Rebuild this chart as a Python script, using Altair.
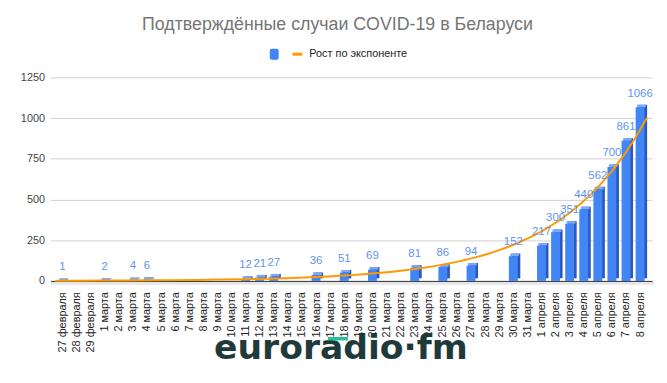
import altair as alt
import pandas as pd

# Category labels (x axis)
dates = [
    "27 февраля", "28 февраля", "29 февраля",
    "1 марта", "2 марта", "3 марта", "4 марта", "5 марта", "6 марта", "7 марта",
    "8 марта", "9 марта", "10 марта", "11 марта", "12 марта", "13 марта", "14 марта",
    "15 марта", "16 марта", "17 марта", "18 марта", "19 марта", "20 марта", "21 марта",
    "22 марта", "23 марта", "24 марта", "25 марта", "26 марта", "27 марта", "28 марта",
    "29 марта", "30 марта", "31 марта",
    "1 апреля", "2 апреля", "3 апреля", "4 апреля", "5 апреля", "6 апреля", "7 апреля",
    "8 апреля",
]

# Dates that have a reported value, and the values
case_dates = [
    "27 февраля", "1 марта", "3 марта", "4 марта", "11 марта", "12 марта", "13 марта",
    "16 марта", "18 марта", "20 марта", "23 марта", "25 марта", "27 марта", "30 марта",
    "1 апреля", "2 апреля", "3 апреля", "4 апреля", "5 апреля", "6 апреля", "7 апреля",
    "8 апреля",
]
cases = [1, 2, 4, 6, 12, 21, 27, 36, 51, 69, 81, 86, 94, 152,
         217, 300, 351, 440, 562, 700, 861, 1066]

y_ticks = [0, 250, 500, 750, 1000, 1250]

title_text = "Подтверждённые случаи COVID-19 в Беларуси"
legend_text = "Рост по экспоненте"
logo_text = "euroradio·fm"

df = pd.DataFrame({
    "date": case_dates,
    "idx": [dates.index(d) for d in case_dates],
    "value": cases,
})

W, H = 609, 206
FONT = "Liberation Sans"

label_expr = "[" + ",".join("'" + d + "'" for d in dates) + "][datum.value]"

X = alt.X(
    "idx:Q",
    scale=alt.Scale(domain=[-0.5, len(dates) - 0.5], nice=False, zero=False),
    axis=alt.Axis(
        values=list(range(len(dates))), labelExpr=label_expr, labelAngle=270,
        labelFontSize=11, labelColor="#222222", labelFont=FONT, labelPadding=11,
        labelOverlap=False, labelFlush=False, ticks=False, grid=False,
        domainColor="#333333", domainWidth=1, title=None,
    ),
)
Y = alt.Y(
    "value:Q",
    scale=alt.Scale(domain=[0, 1250], nice=False),
    axis=alt.Axis(
        values=y_ticks, format="d", labelFontSize=11, labelColor="#444444",
        labelFont=FONT, labelPadding=6, ticks=False, domain=False,
        gridColor="#d0d0d0", title=None,
    ),
)

base = alt.Chart(df)

floor = alt.Chart(pd.DataFrame({"a": [0]})).mark_rule(
    color="#e6e6e6", strokeWidth=3
).encode(x=alt.value(0), x2=alt.value(W + 2), y=alt.value(H + 2.5))

side = base.mark_bar(color="#2a56c0", size=9, xOffset=2.6, yOffset=-2.6,
                     y2Offset=-2.6).encode(x=X, y=Y)
top = base.mark_bar(color="#7ea9f7", size=9, xOffset=1.3, yOffset=-2.6,
                    y2Offset=0).encode(x=X, y=Y, y2="value:Q")
main = base.mark_bar(color="#4285f4", size=9).encode(x=X, y=Y)

trend = base.transform_regression(
    "idx", "value", method="exp", extent=[-0.5, len(dates) - 0.5]
).mark_line(color="#ff9900", strokeWidth=2).encode(x=X, y=Y)

labels = base.mark_text(dy=-14, color="#5f93f0", fontSize=11.5, font=FONT,
                        baseline="middle").encode(x=X, y=Y, text="value:Q")

one = pd.DataFrame({"a": [0]})
title = alt.Chart(one).mark_text(
    fontSize=18, color="#757575", font=FONT, align="center", baseline="middle"
).encode(x=alt.value(290.5), y=alt.value(-52.5), text=alt.value(title_text))

leg_sq = alt.Chart(one).mark_rect(color="#4285f4", cornerRadius=2).encode(
    x=alt.value(222), x2=alt.value(231), y=alt.value(-29), y2=alt.value(-18))
leg_line = alt.Chart(one).mark_rule(color="#ff9900", strokeWidth=3).encode(
    x=alt.value(245), x2=alt.value(255), y=alt.value(-23.5))
leg_text = alt.Chart(one).mark_text(
    fontSize=11, color="#222222", font=FONT, align="left", baseline="middle"
).encode(x=alt.value(262), y=alt.value(-23.5), text=alt.value(legend_text))

logo = alt.Chart(one).mark_text(
    fontSize=35, color="#1f3a3a", font="DejaVu Sans", fontWeight="bold",
    align="center", baseline="alphabetic"
).encode(x=alt.value(294), y=alt.value(285.5), text=alt.value(logo_text))
logo_bar = alt.Chart(one).mark_rule(color="#2bbf9c", strokeWidth=3.5).encode(
    x=alt.value(281), x2=alt.value(301), y=alt.value(264.5))

chart = alt.layer(
    floor, side, top, main, trend, labels, title, leg_sq, leg_line, leg_text,
    logo, logo_bar
).properties(
    width=W, height=H,
    autosize=alt.AutoSizeParams(type="none"),
    padding={"left": 43, "top": 68, "right": 7, "bottom": 95},
).configure_view(stroke=None)

chart.save("out.html", embed_options={"renderer": "svg", "actions": False})
